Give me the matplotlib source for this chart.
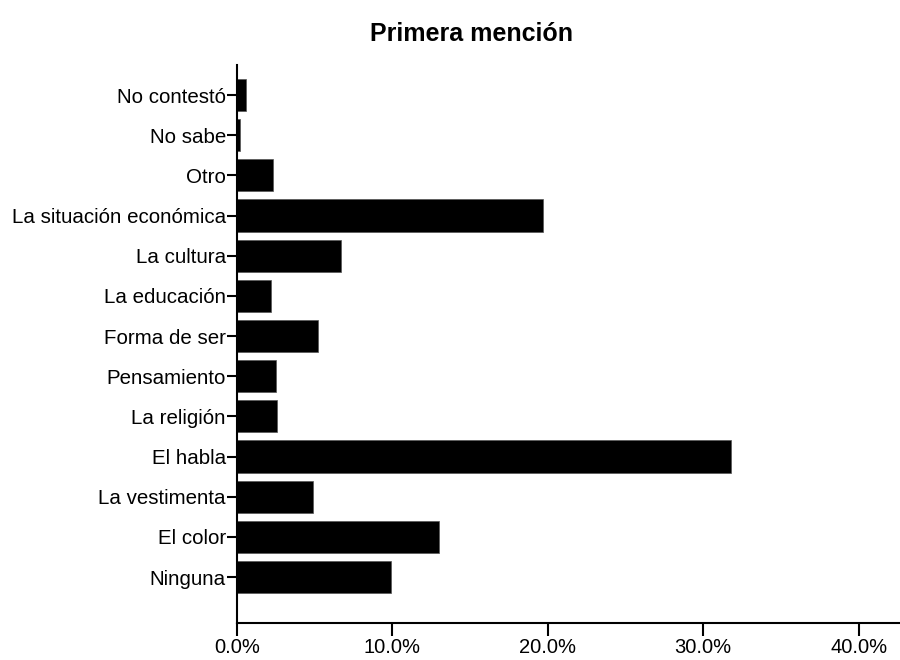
import matplotlib
matplotlib.use("Agg")
import matplotlib.pyplot as plt
import numpy as np
from matplotlib.ticker import FuncFormatter

plt.rcParams['font.family'] = ['Liberation Sans', 'DejaVu Sans']

categories = ["No contestó", "No sabe", "Otro", "La situación económica", "La cultura",
              "La educación", "Forma de ser", "Pensamiento", "La religión", "El habla",
              "La vestimenta", "El color", "Ninguna"]
values = [0.6, 0.2, 2.3, 19.7, 6.7, 2.2, 5.2, 2.5, 2.6, 31.8, 4.9, 13.0, 9.9]
xticks = [0, 10, 20, 30, 40]
title = "Primera mención"

fig = plt.figure(figsize=(9, 6.6), dpi=100)
ax = fig.add_axes([237/900, 1-623/660, (899-237)/900, (623-65)/660])

n = len(categories)
ypos = np.arange(n)[::-1]
ax.barh(ypos, values, height=0.8, color='black', edgecolor='#555555', linewidth=0.5)
ax.set_yticks(ypos)
ax.set_yticklabels(categories, fontsize=14.8)
ax.set_ylim(-1.145, n - 1 + 0.747)
ax.set_xlim(0, 42.6)
ax.set_xticks(xticks)
ax.xaxis.set_major_formatter(FuncFormatter(lambda v, p: f"{v:.1f}%"))
for lab in ax.get_xticklabels():
    lab.set_fontsize(14.5)

for s in ['top', 'right']:
    ax.spines[s].set_visible(False)
for s in ['left', 'bottom']:
    ax.spines[s].set_linewidth(1.5)
    ax.spines[s].set_color('black')
ax.tick_params(axis='y', length=7, width=1.5, pad=1)
ax.tick_params(axis='x', length=9, width=1.5, pad=2)

fig.text(471/900, 1-34/660, title, ha='center', va='center', fontsize=18, fontweight='bold')

fig.savefig("out.png", dpi=100, facecolor='white')
